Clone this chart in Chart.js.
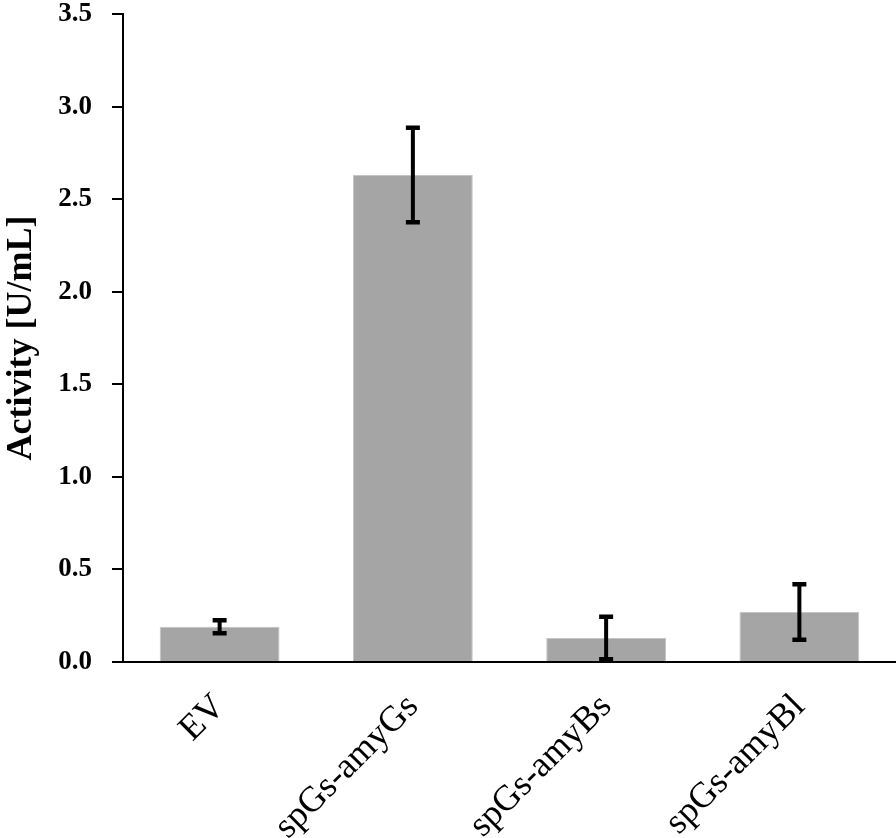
<!DOCTYPE html>
<html>
<head>
<meta charset="utf-8">
<title>Activity chart</title>
<script src="https://cdn.jsdelivr.net/npm/chart.js@4"></script>
<style>
  html, body { margin: 0; padding: 0; background: #fff; }
  #activityChart { display: block; }
</style>
</head>
<body>
<canvas id="activityChart" width="896" height="838"></canvas>
<script>
// data
const categories = ['EV', 'spGs-amyGs', 'spGs-amyBs', 'spGs-amyBl'];
const activity = [0.19, 2.63, 0.13, 0.27];
const activityErr = [0.035, 0.255, 0.115, 0.15]; // +/- error bar
const yTicks = [0, 0.5, 1.0, 1.5, 2.0, 2.5, 3.0, 3.5];

// draws the black error bars with caps on top of the bars
const errorBars = {
    id: 'errorBars',
    afterDatasetsDraw(chart) {
        const ctx = chart.ctx;
        const yScale = chart.scales.y;
        const meta = chart.getDatasetMeta(0);
        ctx.save();
        ctx.strokeStyle = '#000';
        ctx.lineCap = 'butt';
        meta.data.forEach(function (bar, i) {
            const yHi = yScale.getPixelForValue(activity[i] + activityErr[i]);
            const yLo = yScale.getPixelForValue(activity[i] - activityErr[i]);
            ctx.lineWidth = 4;
            ctx.beginPath();
            ctx.moveTo(bar.x, yHi);
            ctx.lineTo(bar.x, yLo);
            ctx.stroke();
            ctx.lineWidth = 4.5;
            ctx.beginPath();
            ctx.moveTo(bar.x - 7, yHi);
            ctx.lineTo(bar.x + 7, yHi);
            ctx.moveTo(bar.x - 7, yLo);
            ctx.lineTo(bar.x + 7, yLo);
            ctx.stroke();
        });
        ctx.restore();
    }
};

document.addEventListener('DOMContentLoaded', function () {
    const canvas = document.getElementById('activityChart');
    if (!canvas) return;

    new Chart(canvas.getContext('2d'), {
        type: 'bar',
        data: {
            labels: categories,
            datasets: [{
                label: 'Activity',
                data: activity,
                backgroundColor: '#a5a5a5',
                borderColor: '#c4c4c4',
                borderWidth: 1,
                barPercentage: 0.62,
                categoryPercentage: 1.0
            }]
        },
        plugins: [errorBars],
        options: {
            responsive: false,
            animation: false,
            devicePixelRatio: 1,
            layout: { padding: 0 },
            plugins: {
                legend: { display: false },
                tooltip: { enabled: false }
            },
            scales: {
                x: {
                    grid: { display: false, drawTicks: false },
                    border: { display: true, color: '#000', width: 2 },
                    ticks: {
                        minRotation: 45,
                        maxRotation: 45,
                        padding: 24,
                        color: '#000',
                        font: { family: '"Liberation Serif", "Times New Roman", serif', size: 36 }
                    },
                    afterFit: function (scale) { scale.height = 176; }
                },
                y: {
                    min: 0,
                    max: 3.5,
                    afterBuildTicks: function (scale) {
                        scale.ticks = yTicks.map(function (v) { return { value: v }; });
                    },
                    grid: {
                        drawOnChartArea: false,
                        drawTicks: true,
                        tickLength: 11,
                        color: '#000',
                        lineWidth: 2
                    },
                    border: { display: true, color: '#000', width: 2 },
                    ticks: {
                        padding: 20,
                        color: '#000',
                        font: { family: '"Liberation Serif", "Times New Roman", serif', size: 27, weight: 'bold' },
                        callback: function (value) { return Number(value).toFixed(1); }
                    },
                    title: {
                        display: true,
                        text: 'Activity [U/mL]',
                        color: '#000',
                        padding: 0,
                        font: { family: '"Liberation Serif", "Times New Roman", serif', size: 36, weight: 'bold' }
                    },
                    afterFit: function (scale) {
                        scale.width = 123;
                        scale.paddingTop = 14; // keep the 3.5 tick near the top edge
                    }
                }
            }
        }
    });
});
</script>
</body>
</html>
